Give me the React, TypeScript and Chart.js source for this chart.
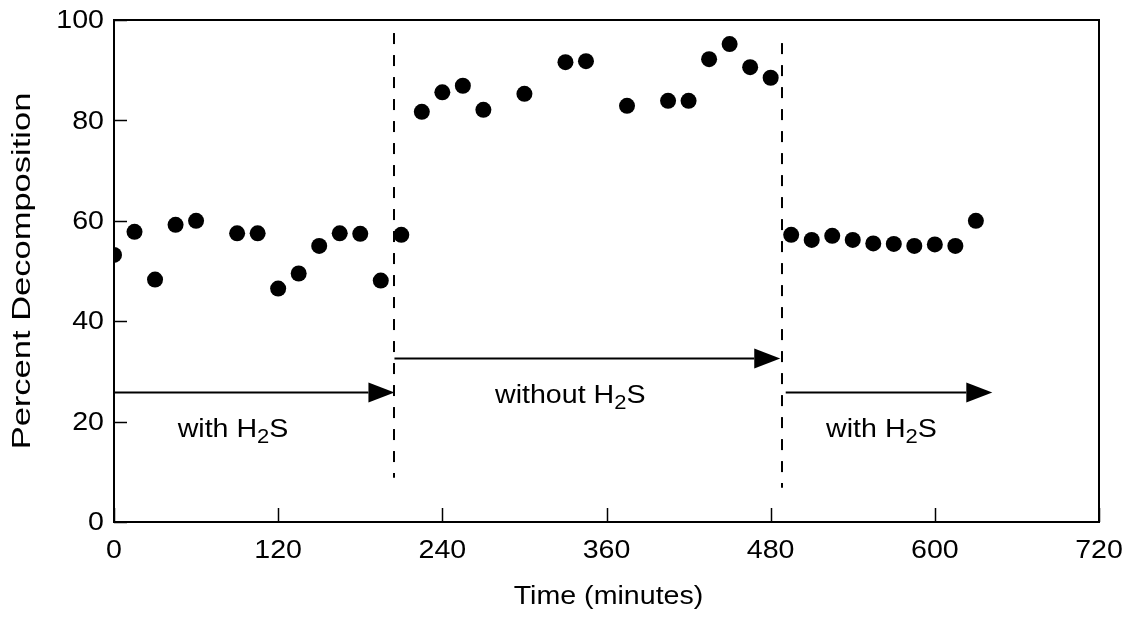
import React, { useEffect, useRef } from "react";
import { Chart, registerables } from "chart.js";

Chart.register(...registerables);

const timesWith1 = [0, 15, 30, 45, 60, 90, 105, 120, 135, 150, 165, 180, 195, 210];
const valuesWith1 = [53.2, 57.8, 48.3, 59.2, 60.0, 57.5, 57.5, 46.5, 49.5, 55.0, 57.5, 57.4, 48.1, 57.2];
const timesWithout = [225, 240, 255, 270, 300, 330, 345, 375, 405, 420, 435, 450, 465, 480];
const valuesWithout = [81.7, 85.6, 86.9, 82.1, 85.3, 91.6, 91.8, 82.9, 83.9, 83.9, 92.2, 95.2, 90.6, 88.5];
const timesWith2 = [495, 510, 525, 540, 555, 570, 585, 600, 615, 630];
const valuesWith2 = [57.2, 56.2, 57.0, 56.2, 55.5, 55.4, 55.0, 55.3, 55.0, 60.0];

const xTicks = [0, 120, 240, 360, 480, 600, 720];
const yTicks = [0, 20, 40, 60, 80, 100];

// dashed boundaries: time, from value, to value
const dividerTimes = [205, 488];
const dividerFrom = [8.8, 6.8];
const dividerTo = [97.4, 95.4];

// arrows: start time, end time, level
const arrowStart = [0, 205, 491];
const arrowEnd = [205, 487, 642];
const arrowLevel = [25.9, 32.7, 25.9];

// phase labels: prefix, subscript, suffix, centre time, baseline value
const labelPrefix = ["with H", "without H", "with H"];
const labelSub = ["2", "2", "2"];
const labelSuffix = ["S", "S", "S"];
const labelTime = [87, 333.5, 561];
const labelValue = [16.9, 23.8, 16.9];

const xTitle = "Time (minutes)";
const yTitle = "Percent Decomposition";

const FONT = "'Liberation Sans', Arial, Helvetica, sans-serif";
const SX = 1.1; // horizontal stretch of the reference lettering

const toPts = (ts: number[], vs: number[]) => ts.map((t, i) => ({ x: t, y: vs[i] }));

function drawText(ctx: CanvasRenderingContext2D, text: string, x: number, y: number, align: CanvasTextAlign, sx: number) {
  ctx.save();
  ctx.translate(x, y);
  ctx.scale(sx, 1);
  ctx.textAlign = align;
  ctx.fillText(text, 0, 0);
  ctx.restore();
}

const decorPlugin = {
  id: "decor",
  afterDatasetsDraw(chart: any) {
    const { ctx, chartArea } = chart;
    const xs = chart.scales.x;
    const ys = chart.scales.y;
    const { left, right, top, bottom } = chartArea;
    ctx.save();
    ctx.strokeStyle = "#000";
    ctx.fillStyle = "#000";

    // frame
    ctx.lineWidth = 2;
    ctx.strokeRect(left, top, right - left, bottom - top);

    // inward ticks
    ctx.lineWidth = 1.5;
    xTicks.forEach((t) => {
      const px = Math.round(xs.getPixelForValue(t)) + 0.5;
      ctx.beginPath();
      ctx.moveTo(px, bottom);
      ctx.lineTo(px, bottom - 14);
      ctx.stroke();
    });
    yTicks.forEach((v) => {
      const py = Math.round(ys.getPixelForValue(v)) + 0.5;
      ctx.beginPath();
      ctx.moveTo(left, py);
      ctx.lineTo(left + 13, py);
      ctx.stroke();
    });

    // tick labels
    ctx.font = `26px ${FONT}`;
    ctx.textBaseline = "alphabetic";
    xTicks.forEach((t) => {
      drawText(ctx, String(t), xs.getPixelForValue(t), 558, "center", SX);
    });
    ctx.textBaseline = "middle";
    yTicks.forEach((v) => {
      drawText(ctx, String(v), left - 10, ys.getPixelForValue(v) + 1, "right", SX);
    });

    // dashed dividers
    ctx.lineWidth = 2;
    ctx.setLineDash([11, 11]);
    dividerTimes.forEach((t, i) => {
      const px = Math.round(xs.getPixelForValue(t));
      ctx.beginPath();
      ctx.moveTo(px, ys.getPixelForValue(dividerTo[i]));
      ctx.lineTo(px, ys.getPixelForValue(dividerFrom[i]));
      ctx.stroke();
    });
    ctx.setLineDash([]);

    // arrows
    arrowStart.forEach((t0, i) => {
      const x0 = xs.getPixelForValue(t0);
      const x1 = xs.getPixelForValue(arrowEnd[i]);
      const py = Math.round(ys.getPixelForValue(arrowLevel[i])) + 0.5;
      const headLen = 26;
      const headHalf = 10;
      ctx.lineWidth = 2;
      ctx.beginPath();
      ctx.moveTo(x0, py);
      ctx.lineTo(x1 - headLen, py);
      ctx.stroke();
      ctx.beginPath();
      ctx.moveTo(x1, py);
      ctx.lineTo(x1 - headLen, py - headHalf);
      ctx.lineTo(x1 - headLen, py + headHalf);
      ctx.closePath();
      ctx.fill();
    });

    // phase labels with subscript
    const mainFont = `26px ${FONT}`;
    const subFont = `20px ${FONT}`;
    ctx.textBaseline = "alphabetic";
    labelPrefix.forEach((pre, i) => {
      ctx.font = mainFont;
      const w1 = ctx.measureText(pre).width;
      const w3 = ctx.measureText(labelSuffix[i]).width;
      ctx.font = subFont;
      const w2 = ctx.measureText(labelSub[i]).width;
      const total = w1 + w2 + w3;
      const cx = xs.getPixelForValue(labelTime[i]);
      const cy = ys.getPixelForValue(labelValue[i]);
      ctx.save();
      ctx.translate(cx, cy);
      ctx.scale(SX, 1);
      ctx.textAlign = "left";
      let x = -total / 2;
      ctx.font = mainFont;
      ctx.fillText(pre, x, 0);
      x += w1;
      ctx.font = subFont;
      ctx.fillText(labelSub[i], x, 6);
      x += w2;
      ctx.font = mainFont;
      ctx.fillText(labelSuffix[i], x, 0);
      ctx.restore();
    });

    // axis titles
    ctx.font = `26px ${FONT}`;
    ctx.textBaseline = "alphabetic";
    drawText(ctx, xTitle, (left + right) / 2 + 2, 604, "center", SX);

    ctx.font = `25px ${FONT}`;
    ctx.save();
    ctx.translate(30, 271);
    ctx.rotate(-Math.PI / 2);
    ctx.scale(1.38, 1);
    ctx.textAlign = "center";
    ctx.fillText(yTitle, 0, 0);
    ctx.restore();

    ctx.restore();
  },
};

export default function App() {
  const ref = useRef<HTMLCanvasElement | null>(null);

  useEffect(() => {
    if (!ref.current) return;
    const pointStyle = {
      pointRadius: 8,
      pointHoverRadius: 8,
      pointBackgroundColor: "#000",
      pointBorderColor: "#000",
      pointBorderWidth: 0,
      showLine: false,
    };
    const chart = new Chart(ref.current, {
      type: "scatter",
      data: {
        datasets: [
          { label: "with H2S (1)", data: toPts(timesWith1, valuesWith1), ...pointStyle },
          { label: "without H2S", data: toPts(timesWithout, valuesWithout), ...pointStyle },
          { label: "with H2S (2)", data: toPts(timesWith2, valuesWith2), ...pointStyle },
        ],
      },
      options: {
        animation: false,
        responsive: false,
        maintainAspectRatio: false,
        layout: { padding: { left: 0, top: 20, right: 25, bottom: 0 } },
        plugins: { legend: { display: false }, tooltip: { enabled: false } },
        scales: {
          x: {
            type: "linear",
            min: 0,
            max: 720,
            afterBuildTicks: (s: any) => {
              s.ticks = xTicks.map((v) => ({ value: v }));
            },
            afterFit: (s: any) => {
              s.height = 96;
            },
            grid: { display: false, drawTicks: false },
            border: { display: false },
            ticks: { display: false },
          },
          y: {
            type: "linear",
            min: 0,
            max: 100,
            afterBuildTicks: (s: any) => {
              s.ticks = yTicks.map((v) => ({ value: v }));
            },
            afterFit: (s: any) => {
              s.width = 114;
            },
            grid: { display: false, drawTicks: false },
            border: { display: false },
            ticks: { display: false },
          },
        },
      },
      plugins: [decorPlugin],
    });
    return () => chart.destroy();
  }, []);

  return (
    <div style={{ position: "absolute", left: 0, top: 0, width: 1124, height: 618, background: "#fff" }}>
      <canvas ref={ref} width={1124} height={618} style={{ width: 1124, height: 618, display: "block" }} />
    </div>
  );
}
